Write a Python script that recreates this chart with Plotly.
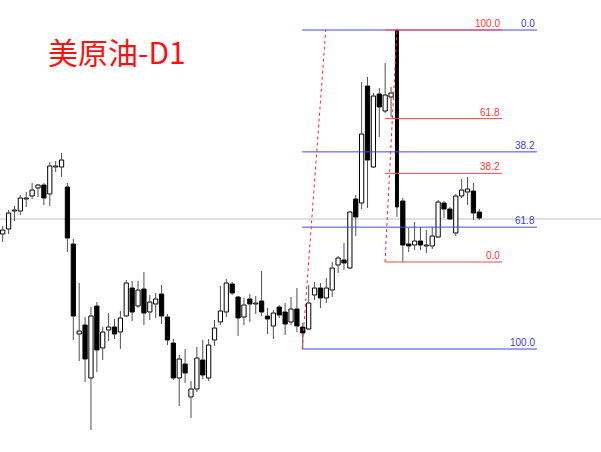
import plotly.graph_objects as go

# ---- data (prices) ----
opens = [89.2, 90.2, 93.8, 93.8, 96.2, 96.8, 98.4, 99.0, 97.2, 102.6,
         102.6, 98.6, 87.2, 69.2, 71.0, 60.4, 74.8, 66.4, 70.0, 70.6,
         69.6, 72.8, 78.4, 74.8, 78.2, 73.6, 75.2, 77.2, 72.6, 67.4,
         60.4, 63.2, 56.6, 58.2, 64.0, 60.4, 68.0, 71.6, 73.6, 79.2,
         76.6, 72.6, 76.2, 75.2, 75.8, 72.8, 70.8, 74.6, 73.6, 71.6,
         74.2, 70.6, 70.2, 77.0, 78.4, 76.4, 78.0, 83.0, 84.0, 82.4,
         96.2, 95.4, 118.8, 102.6, 117.2, 113.8, 116.6, 130.0, 95.8, 87.2,
         87.0, 87.8, 86.8, 86.8, 88.6, 95.4, 94.2, 89.4, 96.8, 97.6,
         97.8, 93.6]
highs = [90.8, 94.0, 94.8, 97.0, 97.6, 99.4, 99.2, 99.4, 103.6, 103.8,
         105.4, 99.4, 88.2, 79.4, 72.6, 74.6, 75.6, 70.6, 73.4, 72.2,
         73.8, 80.0, 79.8, 79.8, 81.6, 77.0, 77.4, 79.0, 73.2, 68.2,
         65.0, 66.2, 59.8, 66.6, 68.0, 68.2, 72.0, 78.8, 80.2, 79.6,
         76.8, 76.4, 77.2, 76.8, 81.8, 74.4, 74.0, 75.0, 75.4, 76.6,
         78.4, 71.4, 79.0, 79.6, 79.4, 80.4, 83.6, 84.8, 87.4, 93.8,
         97.0, 119.6, 120.6, 117.4, 118.4, 123.4, 118.6, 130.0, 96.4, 90.4,
         91.6, 90.6, 90.0, 90.6, 96.0, 95.8, 94.6, 97.2, 100.2, 100.6,
         99.4, 94.2]
lows = [87.6, 89.2, 91.8, 93.0, 94.6, 96.2, 96.6, 95.0, 94.8, 101.6,
        100.6, 85.6, 68.0, 63.8, 59.6, 50.0, 61.6, 64.0, 67.8, 68.2,
        66.2, 72.6, 71.8, 74.4, 71.0, 72.0, 72.4, 71.2, 67.0, 60.0,
        54.8, 59.4, 52.4, 57.6, 60.2, 59.8, 66.8, 71.0, 72.6, 77.0,
        68.8, 71.0, 71.6, 73.2, 72.8, 69.2, 68.2, 72.4, 69.0, 71.0,
        69.6, 66.2, 70.0, 76.0, 74.4, 75.4, 76.6, 81.4, 82.0, 82.2,
        88.8, 94.2, 94.4, 102.4, 108.6, 113.4, 112.6, 92.6, 83.6, 85.6,
        86.0, 86.0, 85.4, 86.2, 88.4, 92.4, 92.0, 88.8, 96.4, 95.0,
        92.0, 92.0]
closes = [90.0, 93.4, 94.0, 96.4, 96.4, 98.0, 99.0, 96.4, 102.8, 102.8,
          104.0, 88.4, 72.8, 69.8, 64.2, 72.8, 66.0, 69.6, 70.6, 69.2,
          72.4, 79.4, 73.6, 78.0, 73.4, 75.6, 76.2, 72.8, 68.0, 60.4,
          64.2, 61.4, 58.2, 64.4, 61.0, 67.0, 70.4, 73.8, 79.4, 77.4,
          72.4, 75.0, 75.2, 75.4, 73.6, 72.2, 73.4, 73.0, 71.2, 74.2,
          70.8, 69.4, 75.4, 78.4, 76.4, 78.4, 82.4, 84.4, 83.4, 93.6,
          92.6, 109.2, 104.0, 116.8, 114.6, 117.0, 117.4, 94.6, 87.0, 86.8,
          87.8, 87.0, 87.0, 88.8, 95.6, 94.2, 92.2, 96.8, 98.0, 98.2,
          93.4, 92.4]

fib_levels = [0.0, 38.2, 61.8, 100.0]
blue_low_bar, blue_high_bar = 51, 67     # anchor candles of the blue retracement
red_low_bar, red_high_bar = 68, 67       # anchor candles of the red retracement
hline_price = 92.2
title_text = "美原油-D1"

idx = list(range(len(opens)))

fig = go.Figure()

# bodies
bases = [min(o, c) for o, c in zip(opens, closes)]
tops = [max(o, c) for o, c in zip(opens, closes)]
heights = [t - b for t, b in zip(tops, bases)]
fills = ["white" if c > o else "black" for o, c in zip(opens, closes)]
widths = [0.5 if i == blue_high_bar else 0.72 for i in idx]
fig.add_trace(go.Bar(x=idx, y=heights, base=bases, width=widths,
                     marker=dict(color=fills, line=dict(color="black", width=1))))

# wicks (upper and lower segments, outside the bodies)
wx, wy = [], []
for i in idx:
    if highs[i] > tops[i]:
        wx += [i, i, None]
        wy += [tops[i], highs[i], None]
    if lows[i] < bases[i]:
        wx += [i, i, None]
        wy += [lows[i], bases[i], None]
fig.add_trace(go.Scatter(x=wx, y=wy, mode="lines",
                         line=dict(color="#505050", width=1),
                         hoverinfo="skip"))

# gray horizontal line
fig.add_shape(type="line", xref="paper", x0=0, x1=1, y0=hline_price, y1=hline_price,
              line=dict(color="#d4d4d4", width=1.5), layer="below")

# blue fibonacci (low -> high): 0 at high, 100 at low
b_lo = lows[blue_low_bar]
b_hi = highs[blue_high_bar]
bx0, bx1 = 50.9, 90.8
for lv in fib_levels:
    p = b_hi - (b_hi - b_lo) * lv / 100.0
    fig.add_shape(type="line", x0=bx0, x1=bx1, y0=p, y1=p,
                  line=dict(color="rgb(70,70,225)", width=1))
    fig.add_annotation(x=bx1, y=p, text=f"{lv:.1f}", showarrow=False,
                       xanchor="right", yanchor="bottom", yshift=-1,
                       font=dict(family="Liberation Sans", size=10, color="rgb(60,60,220)"))
fig.add_shape(type="line", x0=bx0, x1=54.9, y0=b_lo, y1=b_hi,
              line=dict(color="rgb(255,40,40)", width=1, dash="dot"))

# red fibonacci (high -> low): 100 at high, 0 at low
r_lo = lows[red_low_bar]
r_hi = highs[red_high_bar]
rx0, rx1 = 64.97, 84.86
for lv in fib_levels:
    p = r_lo + (r_hi - r_lo) * lv / 100.0
    fig.add_shape(type="line", x0=rx0, x1=rx1, y0=p, y1=p,
                  line=dict(color="rgb(255,70,70)", width=1))
    fig.add_annotation(x=rx1, y=p, text=f"{lv:.1f}", showarrow=False,
                       xanchor="right", yanchor="bottom", yshift=-1,
                       font=dict(family="Liberation Sans", size=10, color="rgb(255,50,50)"))
fig.add_shape(type="line", x0=rx0, x1=67.0, y0=r_lo, y1=r_hi,
              line=dict(color="rgb(255,40,40)", width=1, dash="dot"))

# title
fig.add_annotation(xref="paper", yref="paper", x=46 / 601, y=1 - 51 / 452,
                   text=title_text, showarrow=False, xanchor="left", yanchor="middle",
                   font=dict(family="Noto Sans CJK SC", size=30, color="#ff1010"))

fig.update_layout(width=601, height=452, margin=dict(l=0, r=0, t=0, b=0),
                  paper_bgcolor="white", plot_bgcolor="white", showlegend=False,
                  xaxis=dict(range=[-0.459, 101.68], visible=False),
                  yaxis=dict(range=[45.6, 136.0], visible=False))

fig.write_html("out.html", config={"displayModeBar": False},
               post_script="document.body.style.margin='0';")
